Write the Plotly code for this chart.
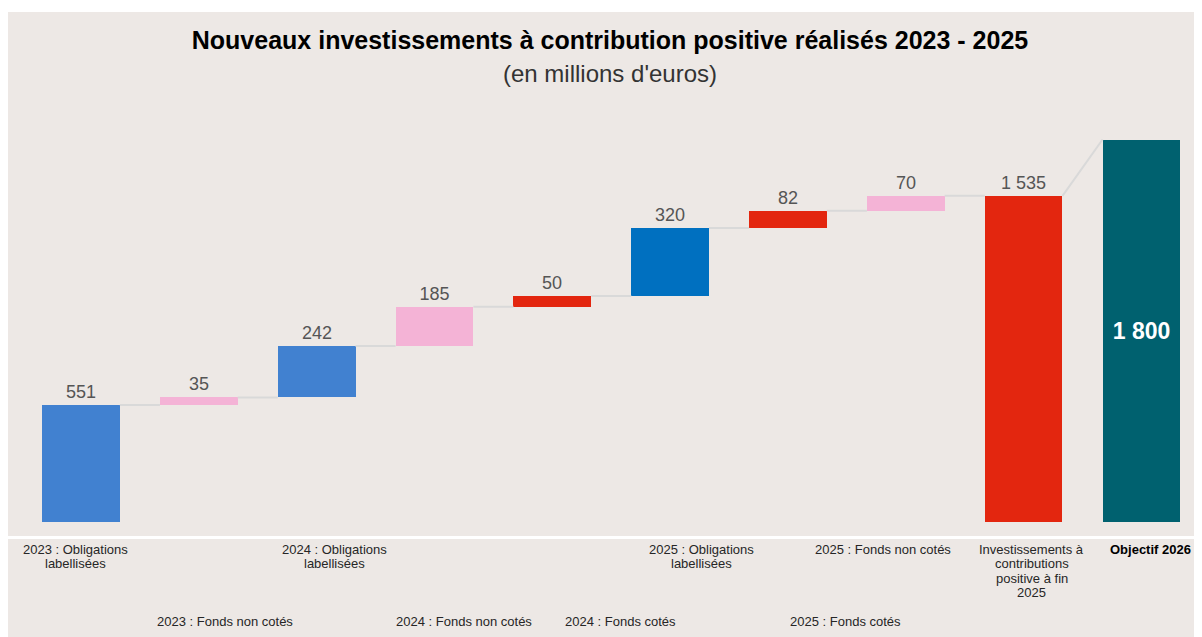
import plotly.graph_objects as go

# ---- data ----
categories = [
    "2023 : Obligations<br>labellisées",
    "2023 : Fonds non cotés",
    "2024 : Obligations<br>labellisées",
    "2024 : Fonds non cotés",
    "2024 : Fonds cotés",
    "2025 : Obligations<br>labellisées",
    "2025 : Fonds cotés",
    "2025 : Fonds non cotés",
    "Investissements à<br>contributions<br>positive à fin<br>2025",
    "<b>Objectif 2026</b>",
]
increments = [551, 35, 242, 185, 50, 320, 82, 70]
total_2025 = 1535
objective_2026 = 1800

bar_colors = ["#4181D0", "#F4B3D6", "#4181D0", "#F4B3D6", "#E3260F",
              "#0070C0", "#E3260F", "#F4B3D6", "#E3260F", "#00616F"]
# label layout: row (0 = top, 1 = bottom) and horizontal offset in category units
label_rows = [0, 1, 0, 1, 1, 0, 1, 0, 0, 0]
label_offsets = [-0.05, 0.22, 0.15, 0.25, 0.58, 0.27, 0.49, -0.19, 0.07, 0.08]

BG = "#EDE8E5"

# ---- derived ----
bases, tops = [], []
run = 0
for v in increments:
    bases.append(run)
    run += v
    tops.append(run)
values = increments + [total_2025, objective_2026]
bases_all = bases + [0, 0]
xs = list(range(len(values)))

def fmt(v):
    return f"{v:,}".replace(",", " ")

texts = [fmt(v) for v in values[:-1]] + [f"<b>{fmt(values[-1])}</b>"]
textpos = ["outside"] * (len(values) - 1) + ["inside"]
tcolors = ["#555555"] * (len(values) - 1) + ["#FFFFFF"]
tsizes = [18] * (len(values) - 1) + [23]

W = 0.66
PLOT_H = 524.0
fig = go.Figure()

# connectors
cx, cy = [], []
for i in range(len(increments)):
    cx += [i + W / 2, i + 1 - W / 2, None]
    cy += [tops[i], tops[i], None]
cx += [len(increments) + W / 2, len(increments) + 1 - W / 2, None]
cy += [total_2025, objective_2026, None]
fig.add_trace(go.Scatter(x=cx, y=cy, mode="lines",
                         line=dict(color="#D9D9D9", width=2),
                         hoverinfo="skip", showlegend=False))

fig.add_trace(go.Bar(
    x=xs, y=values, base=bases_all, width=W,
    marker=dict(color=bar_colors, line=dict(width=0)),
    text=texts, textposition=textpos,
    textfont=dict(color=tcolors, size=tsizes, family="Liberation Sans"),
    insidetextanchor="middle", cliponaxis=False,
    showlegend=False,
))

# bottom category labels (one annotation per line, 14.5 px line spacing)
LINE = 14.5
for i, lab in enumerate(categories):
    lines = lab.split("<br>")
    if label_rows[i] == 0:
        y0_px = 13.0   # centre of first line below plot bottom
    else:
        y0_px = 86.0
    for k, ln in enumerate(lines):
        ypx = y0_px + k * LINE
        fig.add_annotation(
            x=i + label_offsets[i], y=-ypx / PLOT_H, xref="x", yref="paper",
            text=ln, showarrow=False, xanchor="center", yanchor="middle",
            font=dict(size=13, color="#262626" if i < 9 else "#000000",
                      family="Liberation Sans"),
        )

# subtitle
fig.add_annotation(
    x=0.504, y=(528 - 65) / PLOT_H, xref="paper", yref="paper",
    text="(en millions d'euros)", showarrow=False,
    xanchor="center", yanchor="middle",
    font=dict(size=24, color="#333333", family="Liberation Sans"),
)

# beige band below the white separator
fig.add_shape(type="rect", xref="paper", yref="paper",
              x0=-0.001, x1=1.0, y0=-3 / PLOT_H, y1=-110 / PLOT_H,
              fillcolor=BG, line=dict(width=0), layer="below")

fig.update_layout(
    width=1194, height=629,
    margin=dict(l=0, r=0, t=4, b=101),
    paper_bgcolor="#FFFFFF",
    plot_bgcolor=BG,
    title=dict(
        text="<b>Nouveaux investissements à contribution positive réalisés 2023 - 2025</b>",
        x=0.5042, xanchor="center", y=1 - 32 / 629, yanchor="middle",
        font=dict(size=25, color="#000000", family="Liberation Sans"),
    ),
    xaxis=dict(range=[-0.6195, 9.514], showticklabels=False, showgrid=False,
               zeroline=False, fixedrange=True),
    yaxis=dict(range=[-65.9, 2400], showticklabels=False, showgrid=False,
               zeroline=False, fixedrange=True),
    bargap=0, showlegend=False,
)

fig.write_html("out.html")
